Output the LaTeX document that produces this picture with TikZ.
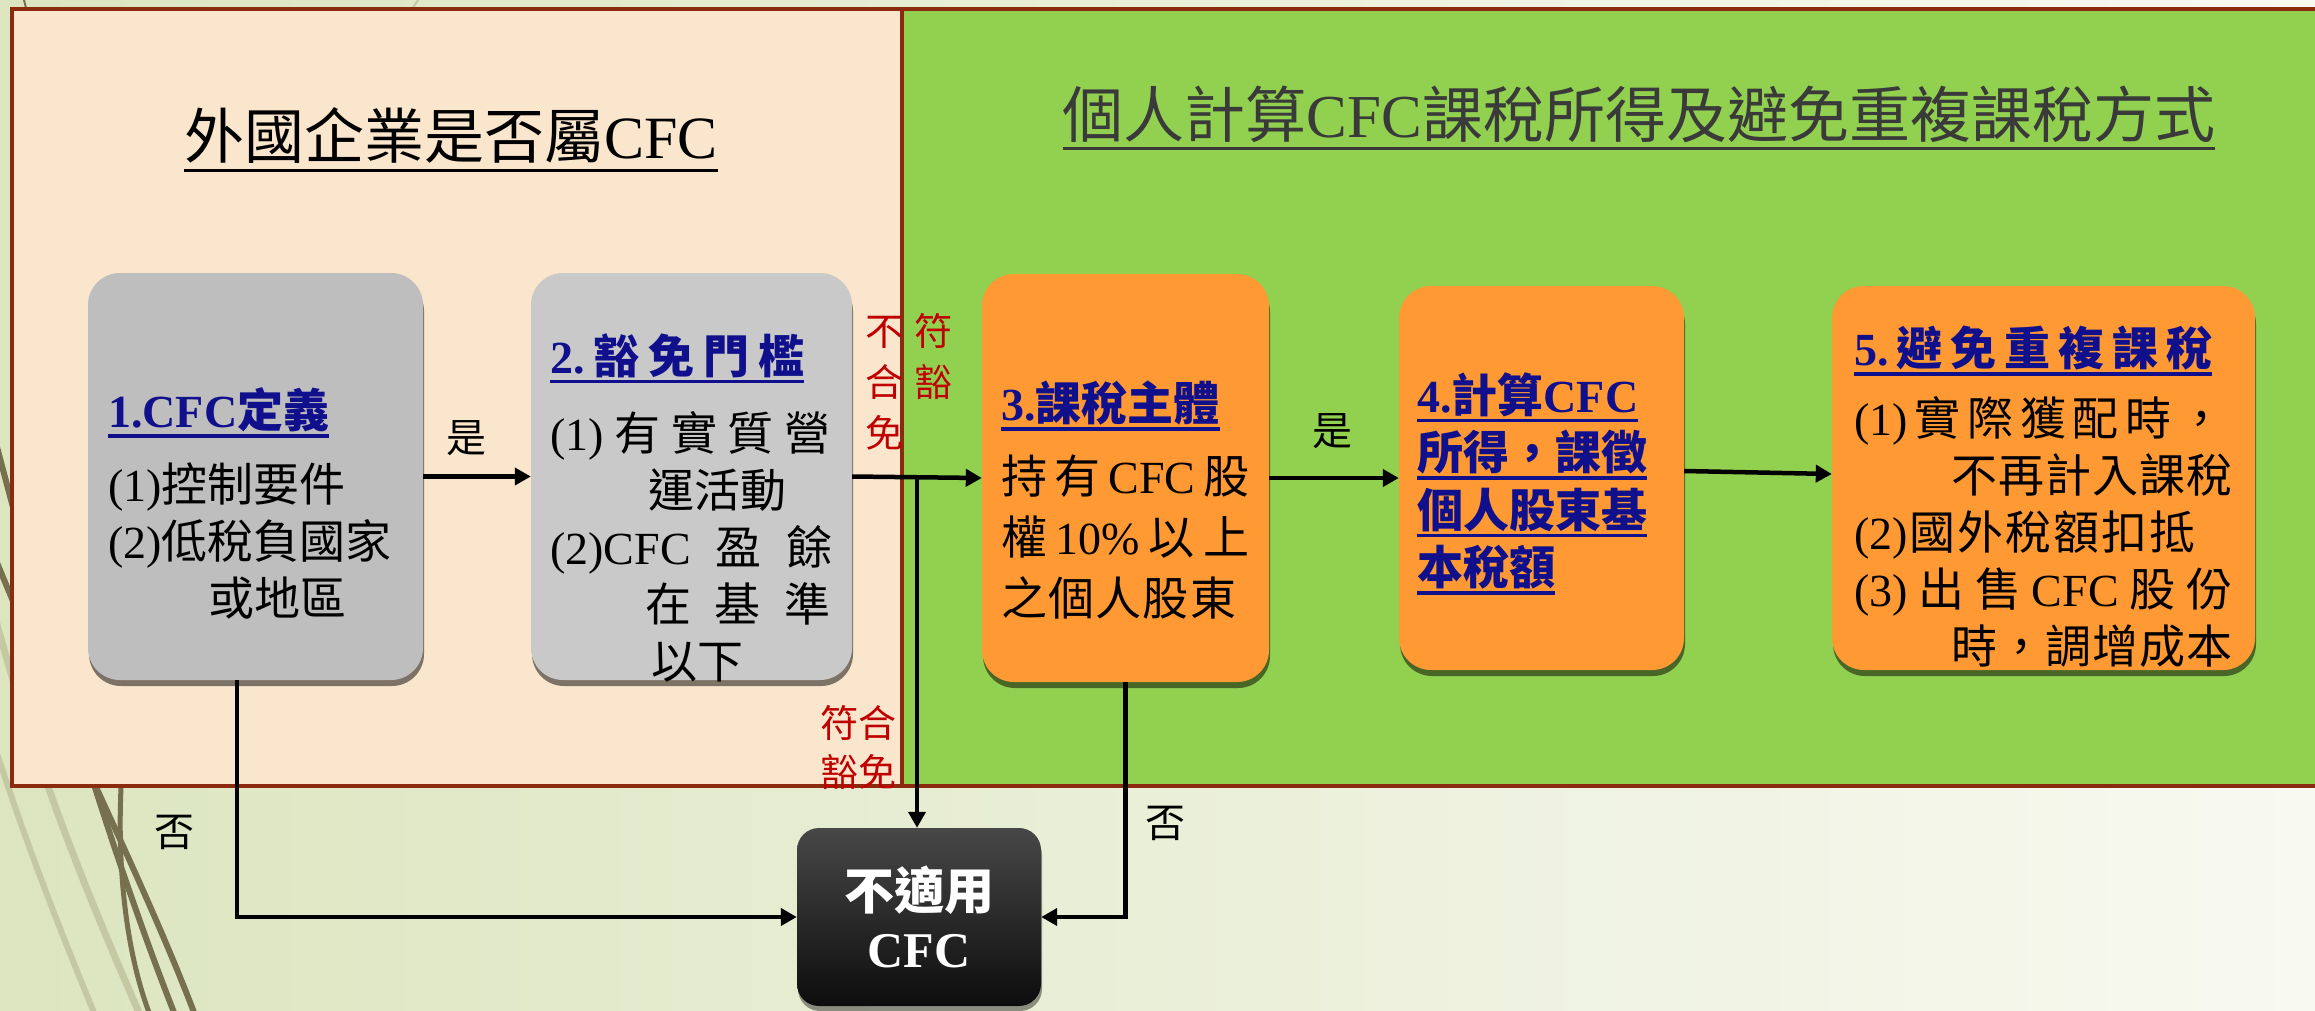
\documentclass[tikz,border=0pt]{standalone}
\usepackage{fontspec}
\setmainfont{Noto Sans CJK TC}
\newfontfamily\latf{Liberation Serif}
\usetikzlibrary{arrows.meta,shadows}
\definecolor{peach}{HTML}{FAE5CD}
\definecolor{grn}{HTML}{92D050}
\definecolor{brd}{HTML}{8B2A0F}
\definecolor{grayA}{HTML}{BEBEBE}
\definecolor{grayB}{HTML}{C9C9C9}
\definecolor{orng}{HTML}{FF9933}
\definecolor{navyt}{HTML}{10108C}
\definecolor{redt}{HTML}{C00000}
\definecolor{bgL}{HTML}{DCE5BF}
\definecolor{bgR}{HTML}{F8F9F1}
\definecolor{olv}{HTML}{77704F}
\definecolor{olvl}{HTML}{C5C9A3}
\definecolor{ttlgray}{HTML}{3A3A3A}
\newcommand\uline[4]{{\setbox0=\hbox{#4}\rlap{\color{#1}\rule[-#2]{\wd0}{#3}}\box0}}
\newcommand\ulx[1]{\uline{navyt}{10pt}{3.5pt}{#1}}
\newcommand\ttl[1]{{\bfseries\color{navyt}#1}}
\tikzset{
  box/.style={draw=none, rounded corners=32pt, inner sep=0pt,
    drop shadow={shadow xshift=1pt, shadow yshift=-6pt, opacity=0.5, fill=black}},
  grayboxA/.style={box, fill=grayA},
  grayboxB/.style={box, fill=grayB},
  orangebox/.style={box, fill=orng},
  txt/.style={anchor=west, align=left, inner sep=0pt, font=\fontsize{46}{57}\selectfont},
  arr/.style={line width=4.5pt, -{Triangle[length=16pt,width=17pt]}},
  lbl/.style={inner sep=0pt, font=\fontsize{40}{40}\selectfont},
  rlbl/.style={inner sep=0pt, text=redt, font=\fontsize{38}{51}\selectfont},
}
\begin{document}
\begin{tikzpicture}[x=1pt,y=-1pt]
\useasboundingbox (0,0) rectangle (2315,1010);
% background
\fill[left color=bgL, right color=bgR] (0,0) rectangle (2315,1010);
\draw[olvl, line width=7pt] (-20,560) .. controls (30,760) and (90,900) .. (140,1015);
\draw[olvl, line width=6pt] (-20,700) .. controls (20,830) and (60,930) .. (95,1015);
\draw[olv, line width=6pt] (-20,380) .. controls (40,620) and (110,850) .. (175,1015);
\draw[olv, line width=6pt] (-20,520) .. controls (50,700) and (140,870) .. (195,1015);
\draw[olv, line width=5pt] (122,770) .. controls (116,860) and (125,950) .. (150,1015);
\draw[olv, line width=2pt] (24,0) -- (27,12);
\draw[olvl, line width=2pt] (418,0) -- (410,12);
% panels
\filldraw[fill=peach, draw=brd, line width=4pt] (12,9) rectangle (902,786);
\filldraw[fill=grn, draw=brd, line width=4pt] (902,9) rectangle (2330,786);
% section titles
\node[inner sep=0pt, font=\fontsize{60}{60}\selectfont] (tl) at (451,140)
  {\uline{black}{13pt}{3pt}{外國企業是否屬{\latf CFC}}};
\node[inner sep=0pt, text=ttlgray, font=\fontsize{61}{61}\selectfont] (tr) at (1639,118)
  {\uline{ttlgray}{13pt}{3.5pt}{個人計算{\latf CFC}課稅所得及避免重複課稅方式}};
% boxes
\node[grayboxA, minimum width=335pt, minimum height=407pt] (b1) at (255.5,476.5) {};
\node[grayboxB, minimum width=321pt, minimum height=407pt] (b2) at (691.5,476.5) {};
\node[orangebox, minimum width=287pt, minimum height=408pt] (b3) at (1125.5,478) {};
\node[orangebox, minimum width=285pt, minimum height=384pt] (b4) at (1541.5,478) {};
\node[orangebox, minimum width=423pt, minimum height=384pt] (b5) at (2043.5,478) {};
\node[draw=none, rounded corners=22pt, minimum width=244pt, minimum height=178pt,
  top color=black!72, bottom color=black!95, text=white, align=center,
  font=\fontsize{50}{58}\selectfont\bfseries,
  drop shadow={shadow xshift=1pt, shadow yshift=-5pt, opacity=0.4, fill=black}]
  (cfc) at (919,917) {不適用\\{\latf CFC}};
% box texts
\node[txt] (t1) at (108,503.5) {\ttl{\ulx{{\latf 1.CFC}定義}}\\[17pt]
  {\latf(1)}控制要件\\
  {\latf(2)}低稅負國家\\
  \hspace*{100pt}或地區};
\node[txt] (t2) at (550,507.5) {\ttl{\ulx{\makebox[254pt][s]{{\latf 2.}\hfill 豁\hfill 免\hfill 門\hfill 檻}}}\\[20pt]
  \makebox[280pt][s]{{\latf(1)}\hfill 有\hfill 實\hfill 質\hfill 營}\\
  \hspace*{98pt}運活動\\
  \makebox[282pt][s]{{\latf(2)CFC}\hfill 盈\hfill 餘}\\
  \hspace*{95pt}\makebox[185pt][s]{在\hfill 基\hfill 準}\\
  \hspace*{101pt}以下};
\node[txt, font=\fontsize{46}{61}\selectfont] (t3) at (1001,500.5) {\ttl{\ulx{{\latf 3.}課稅主體}}\\[12pt]
  \makebox[248pt][s]{持\hfill 有\hfill{\latf CFC}\hfill 股}\\
  \makebox[248pt][s]{權\hfill{\latf 10\%}\hfill 以\hfill 上}\\
  \makebox[235pt][s]{之\hfill 個\hfill 人\hfill 股\hfill 東}};
\node[txt, text=navyt, font=\fontsize{46}{57.5}\selectfont\bfseries] (t4) at (1417,483.5)
  {\ulx{{\latf 4.}計算{\latf CFC}}\\ \ulx{所得，課徵}\\ \ulx{個人股東基}\\ \ulx{本稅額}};
\node[txt] (t5) at (1854,497) {\ttl{\ulx{\makebox[358pt][s]{{\latf 5.}\hfill 避\hfill 免\hfill 重\hfill 複\hfill 課\hfill 稅}}}\\[13pt]
  \makebox[370pt][s]{{\latf(1)}\hfill 實\hfill 際\hfill 獲\hfill 配\hfill 時\hfill ，}\\
  \hspace*{97pt}\makebox[281pt][s]{不\hfill 再\hfill 計\hfill 入\hfill 課\hfill 稅}\\
  \makebox[341pt][s]{{\latf(2)}\hfill 國\hfill 外\hfill 稅\hfill 額\hfill 扣\hfill 抵}\\
  \makebox[378pt][s]{{\latf(3)}\hfill 出\hfill 售\hfill{\latf CFC}\hfill 股\hfill 份}\\
  \hspace*{97pt}\makebox[281pt][s]{時\hfill ，\hfill 調\hfill 增\hfill 成\hfill 本}};
% connectors
\coordinate (br) at (917,478);
\coordinate (d1) at (237,680);
\draw[arr] (b1.east) -- (b2.west);
\draw[arr] (b2.east) -- (b3.west);
\draw[line width=4.5pt] (br) -- ([yshift=-2pt]br);
\draw[arr] ([yshift=2pt]br) -- (br |- cfc.north);
\draw[arr] (b3.east) -- (b4.west);
\draw[arr] ([yshift=7pt]b4.east) -- ([yshift=4pt]b5.west);
\draw[arr] (d1) |- (cfc.west);
\draw[arr] (b3.south) |- (cfc.east);
% labels
\node[lbl] (y1) at (466,438) {是};
\node[lbl] (y2) at (1332,431) {是};
\node[lbl] (n1) at (174,832) {否};
\node[lbl] (n2) at (1165,823) {否};
\node[rlbl, anchor=west, align=left] (r1) at (865,382) {不\hspace{11pt}符\\合\hspace{11pt}豁\\免};
\node[rlbl, align=center, font=\fontsize{38}{49}\selectfont] (r2) at (858,747) {符合\\豁免};
\end{tikzpicture}
\end{document}
